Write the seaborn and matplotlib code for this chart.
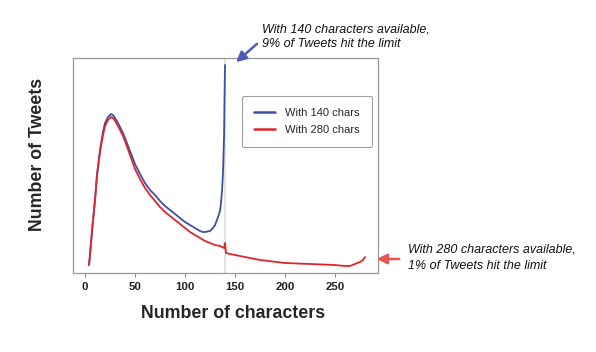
import matplotlib
matplotlib.use("Agg")
import matplotlib.pyplot as plt
import seaborn as sns
import pandas as pd

# Data (arbitrary units of tweet share)
chars_140 = [4, 5, 7, 10, 12, 15, 18, 20, 23, 25, 26, 28, 30, 33, 35, 38, 40, 45, 50, 55, 60, 65, 70, 75, 80, 85, 90,
             95, 100, 105, 110, 115, 118, 120, 125, 128, 130, 132, 133, 135, 136, 137, 138, 139, 140]
tweets_140 = [8, 18, 42, 73, 98, 123, 141, 150, 156, 158, 159, 158, 155, 150, 146, 140, 135, 122, 109, 99, 90, 83, 78,
              72, 67, 63, 59, 55, 51, 48, 45, 42, 41, 41, 42, 45, 48, 53, 56, 62, 70, 82, 100, 135, 208]

chars_280 = [4, 5, 7, 10, 12, 15, 18, 20, 23, 25, 26, 28, 30, 33, 35, 38, 40, 45, 50, 55, 60, 65, 70, 75, 80, 85, 90,
             95, 100, 105, 110, 115, 120, 125, 130, 135, 139, 140, 141, 145, 150, 160, 175, 200, 225, 250, 260,
             265, 270, 275, 278, 280]
tweets_280 = [8, 18, 42, 73, 98, 121, 138, 147, 153, 155, 156, 155, 152, 147, 143, 137, 132, 118, 104, 94, 85, 78, 72,
              66, 61, 57, 53, 49, 45, 41, 38, 35, 32, 30, 28, 27, 25, 30, 20, 19, 18, 16, 13, 10, 9, 8, 7,
              7, 9, 11, 13, 16]

x_ticks = [0, 50, 100, 150, 200, 250]
labels = ["With 140 chars", "With 280 chars"]

df = pd.concat([
    pd.DataFrame({"chars": chars_140, "tweets": tweets_140, "series": labels[0]}),
    pd.DataFrame({"chars": chars_280, "tweets": tweets_280, "series": labels[1]}),
])

sns.set_style("white")
plt.rcParams["font.family"] = ["Liberation Sans", "DejaVu Sans"]

W, H = 596, 352
fig = plt.figure(figsize=(W / 100, H / 100), dpi=100)
ax = fig.add_axes([73 / W, 1 - 273 / H, (378 - 73) / W, (273 - 58) / H])

blue = "#3d4fa6"
red = "#e3242b"

ax.axvline(140, color="#e2e2e2", lw=1.5, zorder=0)
sns.lineplot(data=df, x="chars", y="tweets", hue="series", palette=[blue, red],
             hue_order=labels, ax=ax, lw=1.3, legend=True)
for line in ax.lines:
    if line.get_color() == red:
        line.set_zorder(3)

ax.set_xlim(-12, 293)
ax.set_ylim(0, 215)
ax.set_xticks(x_ticks)
ax.set_xticklabels([str(t) for t in x_ticks], fontweight="bold", fontsize=8.2, color="#222222")
ax.set_yticks([])
ax.tick_params(axis="x", bottom=True, length=3, width=0.8, color="#888888", pad=3.5)
for s in ax.spines.values():
    s.set_color("#999999")
    s.set_linewidth(0.9)

ax.set_xlabel("Number of characters", fontsize=12.8, fontweight="bold", va="center")
ax.xaxis.set_label_coords((233 - 73) / 305, (273 - 313) / 215)
ax.set_ylabel("Number of Tweets", fontsize=12.8, fontweight="bold", va="center")
ax.yaxis.set_label_coords((37 - 73) / 305, (273 - 154) / 215)

leg = ax.legend(loc="upper left", bbox_to_anchor=((242 - 73) / 305, (273 - 96) / 215),
                borderaxespad=0, frameon=True, fontsize=8, handlelength=1.9, handletextpad=0.9,
                borderpad=1.1, labelspacing=0.6, fancybox=True)
leg.get_frame().set_edgecolor("#888888")
leg.get_frame().set_linewidth(0.8)
for l in leg.get_lines():
    l.set_linewidth(1.8)

def fx(px):
    return px / W

def fy(py):
    return 1 - py / H

text_kw = dict(fontsize=9, style="italic", va="center", ha="left", color="#111111")
fig.text(fx(262), fy(29), "With 140 characters available,", **text_kw)
fig.text(fx(262), fy(44), "9% of Tweets hit the limit", **text_kw)
fig.text(fx(408), fy(250), "With 280 characters available,", **text_kw)
fig.text(fx(408), fy(266), "1% of Tweets hit the limit", **text_kw)

ax.annotate("", xy=(fx(234), fy(64)), xycoords="figure fraction",
            xytext=(fx(259), fy(42)), textcoords="figure fraction",
            arrowprops=dict(arrowstyle="-|>,head_length=0.6,head_width=0.3", color="#4a5cb5", lw=1.8))
ax.annotate("", xy=(fx(374), fy(259)), xycoords="figure fraction",
            xytext=(fx(402), fy(259)), textcoords="figure fraction",
            arrowprops=dict(arrowstyle="-|>,head_length=0.6,head_width=0.3", color="#e65454", lw=1.8))

fig.savefig("out.png", dpi=100)
